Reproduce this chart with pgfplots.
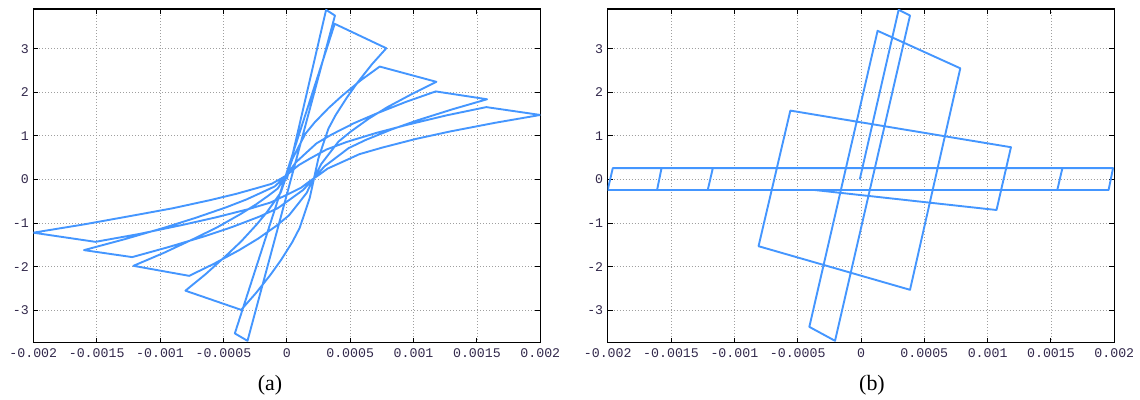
\documentclass[border=0pt]{standalone}
\usepackage{fontspec}
\setmainfont{Liberation Serif}
\setmonofont{Liberation Mono}
\usepackage{pgfplots}
\pgfplotsset{compat=1.18}
\definecolor{curve}{RGB}{68,150,255}
\definecolor{ticklab}{RGB}{50,40,75}
\pgfplotsset{
 myaxis/.style={
  anchor=south west, scale only axis, width=507bp, height=333.7bp,
  xmin=-0.002, xmax=0.002, ymin=-3.743, ymax=3.91,
  xtick={-0.002,-0.0015,-0.001,-0.0005,0,0.0005,0.001,0.0015,0.002},
  xticklabels={-0.002,-0.0015,-0.001,-0.0005,0,0.0005,0.001,0.0015,0.002},
  ytick={-3,-2,-1,0,1,2,3}, yticklabels={-3,-2,-1,0,1,2,3},
  scaled x ticks=false, scaled y ticks=false,
  grid=major, grid style={dash pattern=on 1bp off 2bp, color=gray!75, line width=0.8bp},
  axis line style={line width=1.3bp, black},
  major tick length=5bp, tick style={black, line width=1bp},
  tick align=inside,
  ticklabel style={font=\ttfamily\fontsize{13.3}{13.3}\selectfont, text=ticklab},
  xticklabel style={yshift=-2.5bp},
  yticklabel style={xshift=-1bp},
 },
 myline/.style={curve, line width=1.9bp, line join=round, mark=none},
}
\begin{document}
\begin{tikzpicture}
\path[use as bounding box] (0,0) rectangle (1140bp,400bp);
\begin{axis}[myaxis, at={(33.3bp,57.3bp)}]
\addplot[myline] coordinates {
(0,0) (0.00031,3.89) (0.00038,3.76) (-0.00031,-3.70) (-0.00041,-3.53)
(0.000378,3.57) (0.000785,3.01)
(0.000671,2.64) (0.000557,2.22) (0.000472,1.87) (0.000386,1.48) (0.000329,1.17)
(0.000283,0.78) (0.000249,0.48) (0.000226,0.18) (0.000215,0.03) (0.000204,-0.12)
(0.000181,-0.42) (0.000146,-0.73) (0.0001,-1.12) (0.0000425,-1.44) (-0.000044,-1.84)
(-0.00013,-2.19) (-0.000245,-2.61) (-0.00036,-2.99)
(-0.0008,-2.55)
(-0.00064,-2.17) (-0.00048,-1.75) (-0.00036,-1.42) (-0.00024,-1.04) (-0.00016,-0.76)
(-0.000096,-0.50) (-0.000048,-0.30) (-0.000016,-0.03) (0,0.1) (0.0000147,0.22)
(0.000044,0.47) (0.000088,0.72) (0.000147,1.05) (0.00022,1.31) (0.00033,1.64)
(0.00044,1.93) (0.000586,2.28) (0.000733,2.59)
(0.00118,2.24)
(0.000987,1.96) (0.000794,1.66) (0.000649,1.40) (0.000505,1.10) (0.000408,0.87)
(0.000331,0.58) (0.000273,0.36) (0.000234,0.14) (0.000215,0.03) (0.000195,-0.08)
(0.000156,-0.31) (0.000097,-0.53) (0.000018,-0.82) (-0.000081,-1.06) (-0.000228,-1.36)
(-0.000376,-1.62) (-0.000573,-1.93) (-0.00077,-2.21)
(-0.00121,-1.98)
(-0.000968,-1.68) (-0.000726,-1.35) (-0.000545,-1.09) (-0.000363,-0.79) (-0.000242,-0.57)
(-0.000145,-0.37) (-0.0000726,-0.21) (-0.0000242,0.0) (0,0.1) (0.0000235,0.20)
(0.0000705,0.39) (0.000141,0.58) (0.000235,0.83) (0.000353,1.03) (0.000529,1.29)
(0.000705,1.51) (0.00094,1.78) (0.001175,2.02)
(0.00158,1.84)
(0.001307,1.61) (0.001034,1.36) (0.000829,1.15) (0.000625,0.91) (0.000488,0.72)
(0.000379,0.48) (0.000297,0.30) (0.000242,0.12) (0.000215,0.03) (0.000186,-0.06)
(0.000129,-0.24) (0.000043,-0.42) (-0.000072,-0.66) (-0.000215,-0.85) (-0.000431,-1.09)
(-0.000646,-1.30) (-0.000933,-1.55) (-0.00122,-1.78)
(-0.0016,-1.62)
(-0.00128,-1.37) (-0.00096,-1.10) (-0.00072,-0.88) (-0.00048,-0.64) (-0.00032,-0.46)
(-0.000192,-0.29) (-0.000096,-0.16) (-0.000032,0.01) (0,0.1) (0.0000315,0.18)
(0.0000944,0.33) (0.000189,0.49) (0.000315,0.69) (0.000472,0.86) (0.000708,1.07)
(0.000944,1.25) (0.001259,1.47) (0.001574,1.66)
(0.002,1.48)
(0.001643,1.30) (0.001286,1.10) (0.001018,0.93) (0.000751,0.73) (0.000572,0.58)
(0.000429,0.39) (0.000322,0.25) (0.000251,0.10) (0.000215,0.03) (0.000181,-0.04)
(0.000112,-0.19) (0.000008,-0.34) (-0.00013,-0.53) (-0.000303,-0.68) (-0.000561,-0.87)
(-0.00082,-1.04) (-0.001165,-1.25) (-0.00151,-1.43)
(-0.002,-1.22)
(-0.0016,-1.03) (-0.0012,-0.82) (-0.0009,-0.66) (-0.0006,-0.47) (-0.0004,-0.33)
(-0.00024,-0.20) (-0.00012,-0.10) (-0.00004,0.03) (0,0.1)
};
\end{axis}
\begin{axis}[myaxis, at={(607.7bp,57.3bp)}, width=506.6bp]
\addplot[myline] coordinates {
(-0.00001,0) (0.000297,3.89) (0.000387,3.76) (-0.000205,-3.70) (-0.000408,-3.38)
(0.000131,3.41) (0.000784,2.55) (0.000387,-2.53) (-0.000809,-1.53)
(-0.000558,1.58) (0.001184,0.74) (0.00107,-0.70) (-0.00037,-0.24)
(-0.00121,-0.24) (-0.00117,0.26) (0.00159,0.26) (0.00155,-0.24)
(-0.00161,-0.24) (-0.001575,0.26) (0.00199,0.26) (0.001955,-0.24)
(-0.002,-0.24) (-0.00196,0.26) (0,0.26)
};
\end{axis}
\node at (270bp,15bp) {\fontsize{22}{22}\selectfont (a)};
\node at (872bp,15bp) {\fontsize{22}{22}\selectfont (b)};
\end{tikzpicture}
\end{document}
